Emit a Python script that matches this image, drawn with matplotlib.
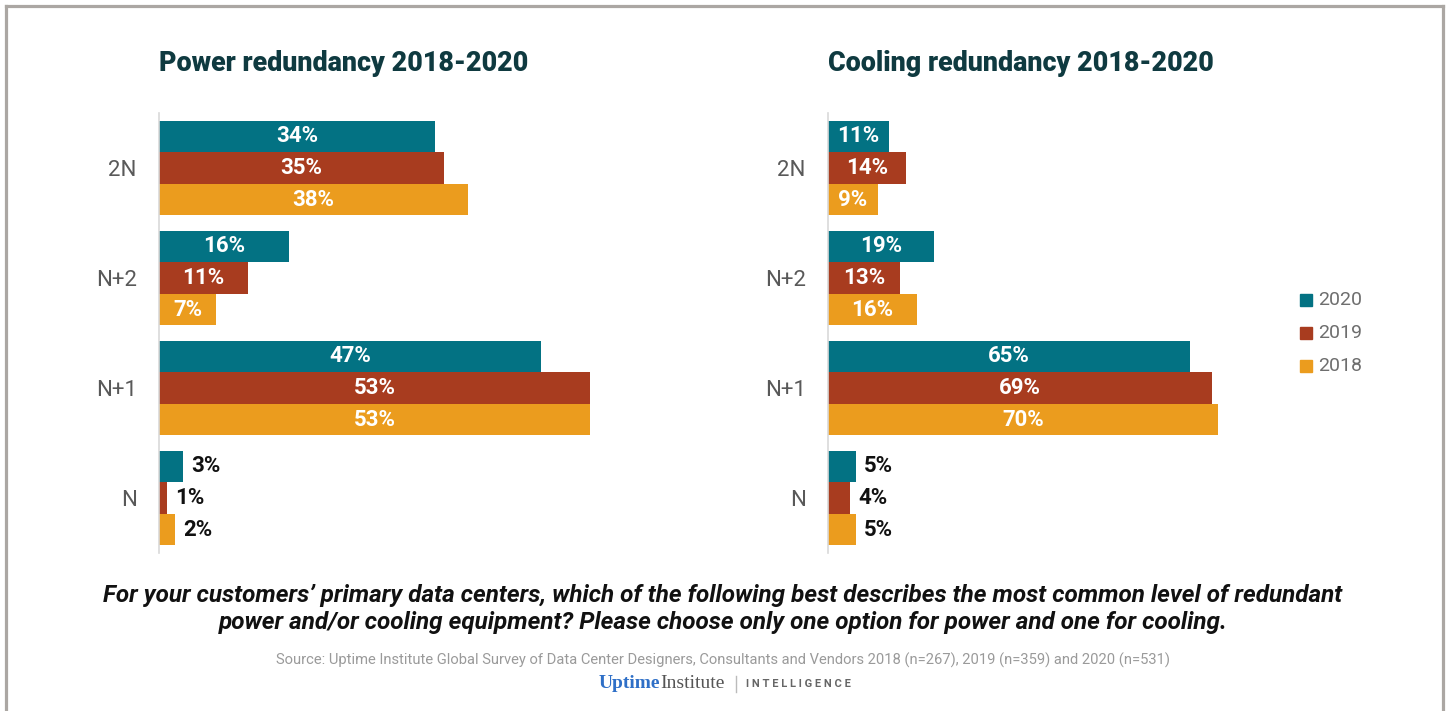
import matplotlib.pyplot as plt
from matplotlib.patches import Rectangle
import numpy as np

plt.rcParams['font.family'] = ['Roboto', 'DejaVu Sans']

categories = ['2N', 'N+2', 'N+1', 'N']
years = ['2020', '2019', '2018']
colors = ['#037283', '#A83C1F', '#EB9C1E']

power = {'2020': [34, 16, 47, 3], '2019': [35, 11, 53, 1], '2018': [38, 7, 53, 2]}
cooling = {'2020': [11, 19, 65, 5], '2019': [14, 13, 69, 4], '2018': [9, 16, 70, 5]}

W, H = 1447, 711
fig = plt.figure(figsize=(W / 100, H / 100), dpi=100)

# frame around the whole graphic
frame_color = '#ABA7A3'
fig.add_artist(plt.Line2D([5.5 / W, 5.5 / W], [0, 1 - 5.5 / H], color=frame_color, lw=2.3, transform=fig.transFigure))
fig.add_artist(plt.Line2D([5.5 / W, 1442.5 / W], [1 - 5.5 / H, 1 - 5.5 / H], color=frame_color, lw=2.3, transform=fig.transFigure))
fig.add_artist(plt.Line2D([1442.5 / W, 1442.5 / W], [0, 1 - 5.5 / H], color=frame_color, lw=2.3, transform=fig.transFigure))


def px_axes(x0, width_px):
    # axes placed in pixel units, y from 113 to 553 (top-down)
    return fig.add_axes([x0 / W, (H - 553) / H, width_px / W, 440 / H])


def draw_panel(ax, data, xmax, title):
    y = np.arange(len(categories))
    h = 0.287
    for i, yr in enumerate(years):
        vals = data[yr]
        pos = y + (i - 1) * h
        ax.barh(pos, vals, height=h, color=colors[i], edgecolor='none')
        for p, v in zip(pos, vals):
            if v >= 0.1 * xmax:
                ax.text(v / 2, p, f'{v}%', ha='center', va='center', color='white',
                        fontsize=16, fontweight='bold')
            else:
                ax.annotate(f'{v}%', (v, p), xytext=(8, 0), textcoords='offset pixels',
                            ha='left', va='center', color='#111111', fontsize=16, fontweight='bold')
    ax.set_xlim(0, xmax)
    ax.set_ylim(3.5, -0.5)
    ax.set_yticks(y)
    ax.set_yticklabels(categories, fontsize=16, color='#595959')
    ax.tick_params(axis='y', length=0, pad=16)
    ax.set_xticks([])
    for s in ['top', 'right', 'bottom']:
        ax.spines[s].set_visible(False)
    ax.spines['left'].set_color('#D9D9D9')
    ax.spines['left'].set_linewidth(1.2)
    ax.set_title(title, loc='left', fontsize=19.4, fontweight='heavy', color='#0F3A40', pad=30)


ax1 = px_axes(159, 55 * 8.13)
draw_panel(ax1, power, 55, 'Power redundancy 2018-2020')

ax2 = px_axes(828, 75 * 5.57)
draw_panel(ax2, cooling, 75, 'Cooling redundancy 2018-2020')

# legend
for i, yr in enumerate(years):
    yc = 1 - (300 + 33 * i) / H
    fig.add_artist(Rectangle((1300 / W, yc - 6 / H), 12 / W, 12 / H, color=colors[i], transform=fig.transFigure))
    fig.text(1318 / W, yc, yr, fontsize=14, color='#6E6E6E', va='center', ha='left')

question = ("For your customers\u2019 primary data centers, which of the following best describes the most common level of redundant\n"
            "power and/or cooling equipment? Please choose only one option for power and one for cooling.")
fig.text(723 / W, 1 - 609 / H, question, ha='center', va='center', fontsize=17.5, fontweight='bold',
         fontstyle='italic', color='#111111', linespacing=1.25)

source = ("Source: Uptime Institute Global Survey of Data Center Designers, Consultants and Vendors "
          "2018 (n=267), 2019 (n=359) and 2020 (n=531)")
fig.text(723 / W, 1 - 660 / H, source, ha='center', va='center', fontsize=10.6, color='#9A9A9A')

# logo line
fig.text(660 / W, 1 - 684 / H, 'Uptime', ha='right', va='center', fontsize=14, color='#2E6FC7',
         family='Liberation Serif', fontweight='bold')
fig.text(660 / W, 1 - 684 / H, 'Institute', ha='left', va='center', fontsize=14, color='#555555',
         family='Liberation Serif')
fig.add_artist(plt.Line2D([736 / W, 736 / W], [1 - 676 / H, 1 - 692 / H], color='#BBBBBB', lw=1,
                          transform=fig.transFigure))
fig.text(746 / W, 1 - 684 / H, 'I N T E L L I G E N C E', ha='left', va='center', fontsize=8,
         color='#666666', fontweight='bold')

fig.savefig('out.png', dpi=100)
